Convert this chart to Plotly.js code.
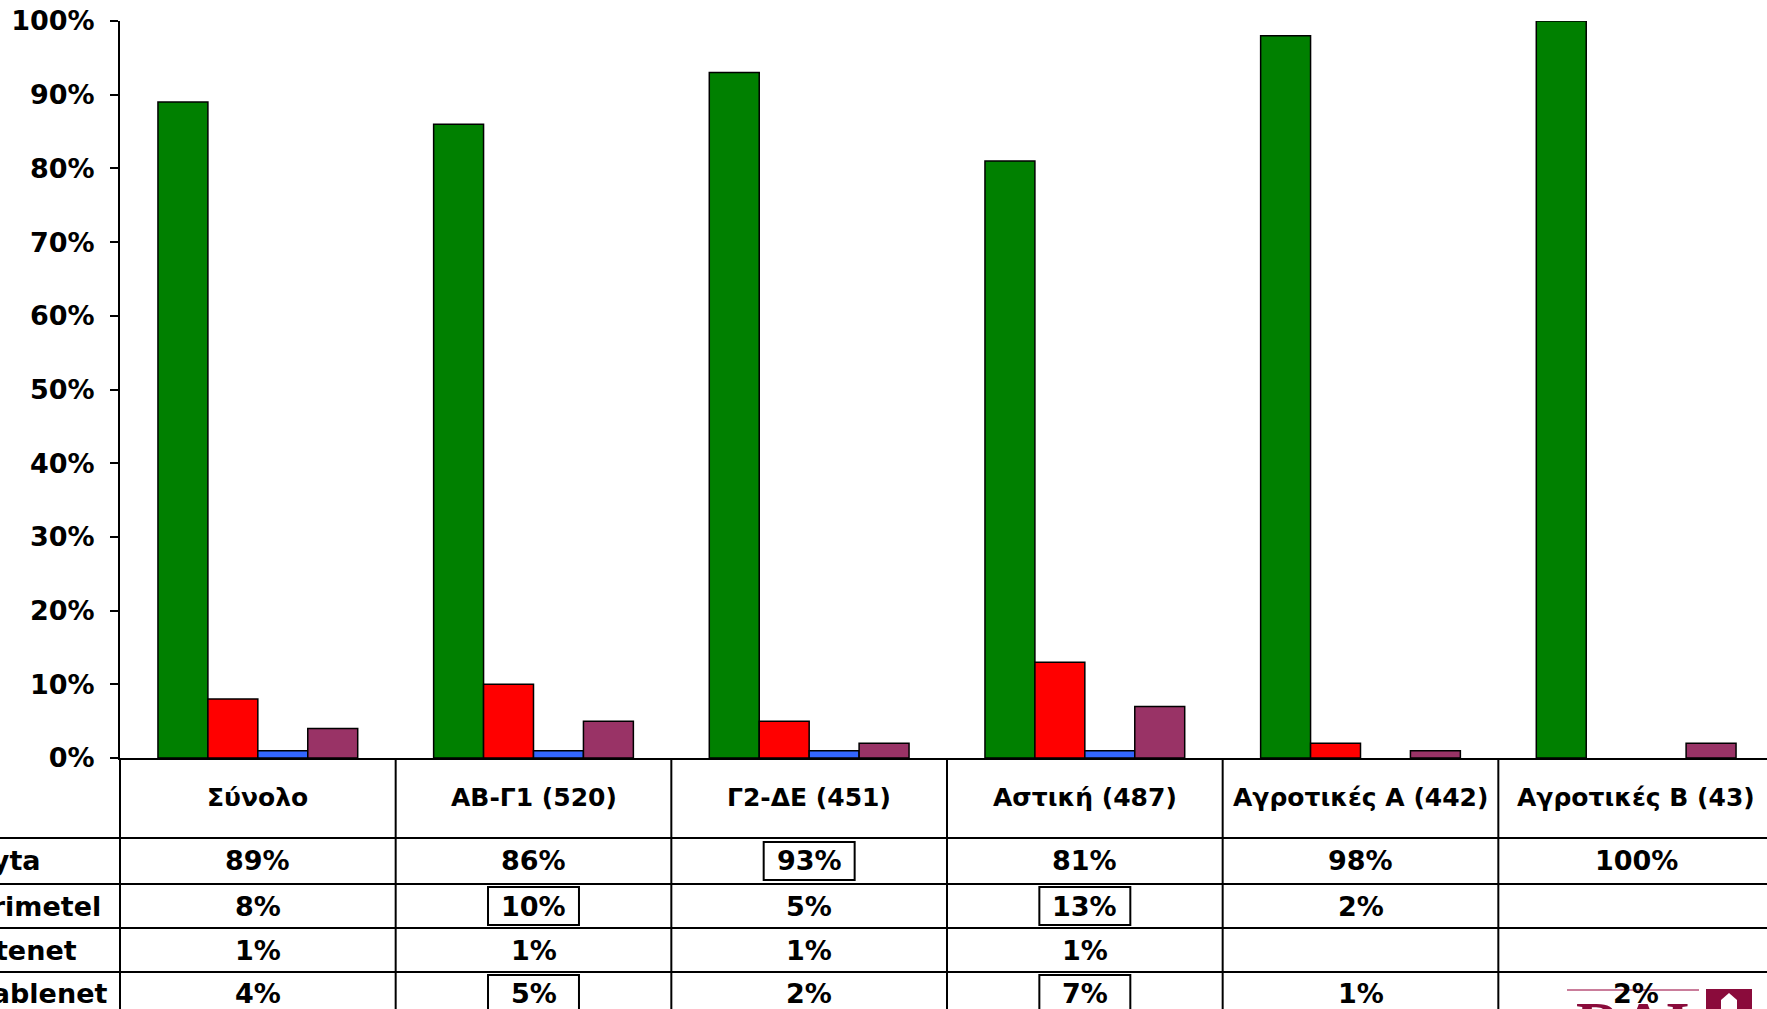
<!DOCTYPE html>
<html>
<head>
<meta charset="utf-8">
<script src="https://cdn.plot.ly/plotly-3.0.1.min.js"></script>
<style>
  html, body { margin: 0; padding: 0; overflow: hidden; background: #fff; width: 1767px; height: 1009px; }
  #chart { position: absolute; left: -60px; top: 0; width: 1870px; height: 1100px; }
</style>
</head>
<body>
<div id="chart"></div>
<script>
// ---- Data ----
const categories = ['Σύνολο', 'ΑΒ-Γ1 (520)', 'Γ2-ΔΕ (451)', 'Αστική (487)', 'Αγροτικές Α (442)', 'Αγροτικές Β (43)'];
const providers = ['Cyta', 'Primetel', 'Otenet', 'Cablenet'];
const cyta     = [89, 86, 93, 81, 98, 100];
const primetel = [8, 10, 5, 13, 2, null];
const otenet   = [1, 1, 1, 1, null, null];
const cablenet = [4, 5, 2, 7, 1, 2];
// highlighted table cells: [providerIndex, categoryIndex]
const highlighted = [[0, 2], [1, 1], [1, 3], [3, 1], [3, 3]];
const yTickValues = [0, 10, 20, 30, 40, 50, 60, 70, 80, 90, 100];
const yTickLabels = ['0%', '10%', '20%', '30%', '40%', '50%', '60%', '70%', '80%', '90%', '100%'];

// ---- Styling ----
const series = [cyta, primetel, otenet, cablenet];
const colors = ['#008000', '#FF0000', '#3366FF', '#993366'];
const FAMILY = 'DejaVu Sans, Verdana, sans-serif';
const FONT = { family: FAMILY, size: 27, color: '#000', weight: 700 };
const HEADFONT = { family: FAMILY, size: 25, color: '#000', weight: 700 };
const TICKFONT = { family: FAMILY, size: 27, color: '#000', weight: 700 };
const PLOT_H = 737;    // plot area height in px
const PLOT_W = 1655;   // plot area width in px
const py = off => -off / PLOT_H;        // px offset below axis -> paper y
const px = off => off / PLOT_W;         // px offset from left of plot -> paper x

const traces = series.map((vals, i) => ({
  type: 'bar',
  name: providers[i],
  x: categories,
  y: vals,
  marker: { color: colors[i], line: { color: '#000', width: 1.5 } },
  hoverinfo: 'x+y+name'
}));

// table geometry (px offsets below the 0% axis)
const rowLines = [80, 126, 170, 214, 258];
const rowCenters = [103, 148, 192, 236];

const shapes = [];
const annotations = [];

// left border continuing the y-axis line
shapes.push({ type: 'line', xref: 'paper', yref: 'paper', x0: 0, x1: 0, y0: 0, y1: py(300), line: { color: '#000', width: 2 } });
// category column separators
for (let k = 0; k < categories.length; k++) {
  shapes.push({ type: 'line', xref: 'x', yref: 'paper', x0: k + 0.5, x1: k + 0.5, y0: 0, y1: py(300), line: { color: '#000', width: 2 } });
}
// horizontal row lines
rowLines.forEach(off => {
  shapes.push({ type: 'line', xref: 'paper', yref: 'paper', x0: px(-220), x1: 1, y0: py(off), y1: py(off), line: { color: '#000', width: 2 } });
});

// header labels
categories.forEach((c, j) => {
  annotations.push({ xref: 'x', yref: 'paper', x: j, y: py(39), text: c, showarrow: false, xanchor: 'center', yanchor: 'middle', font: HEADFONT });
});
// row labels
providers.forEach((p, i) => {
  annotations.push({ xref: 'paper', yref: 'paper', x: px(-150), y: py(rowCenters[i]), text: p, showarrow: false, xanchor: 'left', yanchor: 'middle', font: FONT });
});
// values
series.forEach((vals, i) => {
  vals.forEach((v, j) => {
    if (v === null) return;
    annotations.push({ xref: 'x', yref: 'paper', x: j, y: py(rowCenters[i]), text: v + '%', showarrow: false, xanchor: 'center', yanchor: 'middle', font: FONT });
  });
});
// highlight boxes
highlighted.forEach(([i, j]) => {
  shapes.push({ type: 'rect', xref: 'x', yref: 'paper', x0: j - 0.165, x1: j + 0.165, y0: py(rowCenters[i] - 19), y1: py(rowCenters[i] + 19), line: { color: '#000', width: 2 }, fillcolor: 'rgba(0,0,0,0)' });
});

// logo (bottom right, partly cut off)
const maroon = '#8A0B3B';
shapes.push({ type: 'line', xref: 'paper', yref: 'paper', x0: px(1447), x1: px(1579), y0: py(232), y1: py(232), line: { color: '#B8527A', width: 1.5 } });
shapes.push({ type: 'rect', xref: 'paper', yref: 'paper', x0: px(1586), x1: px(1632), y0: py(231), y1: py(300), line: { width: 0 }, fillcolor: maroon, layer: 'below' });
shapes.push({ type: 'path', xref: 'paper', yref: 'paper',
  path: `M ${px(1609)} ${py(235)} L ${px(1617)} ${py(242)} L ${px(1617)} ${py(260)} L ${px(1601)} ${py(260)} L ${px(1601)} ${py(242)} Z`,
  line: { width: 0 }, fillcolor: '#fff', layer: 'below' });
annotations.push({ xref: 'paper', yref: 'paper', x: px(1513), y: py(229), text: 'RAI', showarrow: false, xanchor: 'center', yanchor: 'top',
  font: { family: 'Liberation Serif, serif', size: 62, color: maroon, weight: 700 } });

const layout = {
  width: 1870, height: 1100,
  margin: { l: 180, r: 35, t: 21, b: 342, pad: 0 },
  paper_bgcolor: '#fff', plot_bgcolor: '#fff',
  barmode: 'group', bargap: 0.2754, bargroupgap: 0,
  showlegend: false,
  font: FONT,
  xaxis: {
    type: 'category', showticklabels: false, ticks: '', showline: true, linecolor: '#000', linewidth: 2,
    showgrid: false, zeroline: false, fixedrange: true
  },
  yaxis: {
    range: [0, 100], tickmode: 'array', tickvals: yTickValues, ticktext: yTickLabels, showline: true, linecolor: '#000', linewidth: 2,
    ticks: 'outside', ticklen: 8, tickwidth: 2, tickcolor: '#000', showgrid: false, zeroline: false,
    tickfont: TICKFONT, ticklabelstandoff: 10, fixedrange: true
  },
  shapes: shapes,
  annotations: annotations
};

Plotly.newPlot('chart', traces, layout, { displayModeBar: false, staticPlot: true });
</script>
</body>
</html>
